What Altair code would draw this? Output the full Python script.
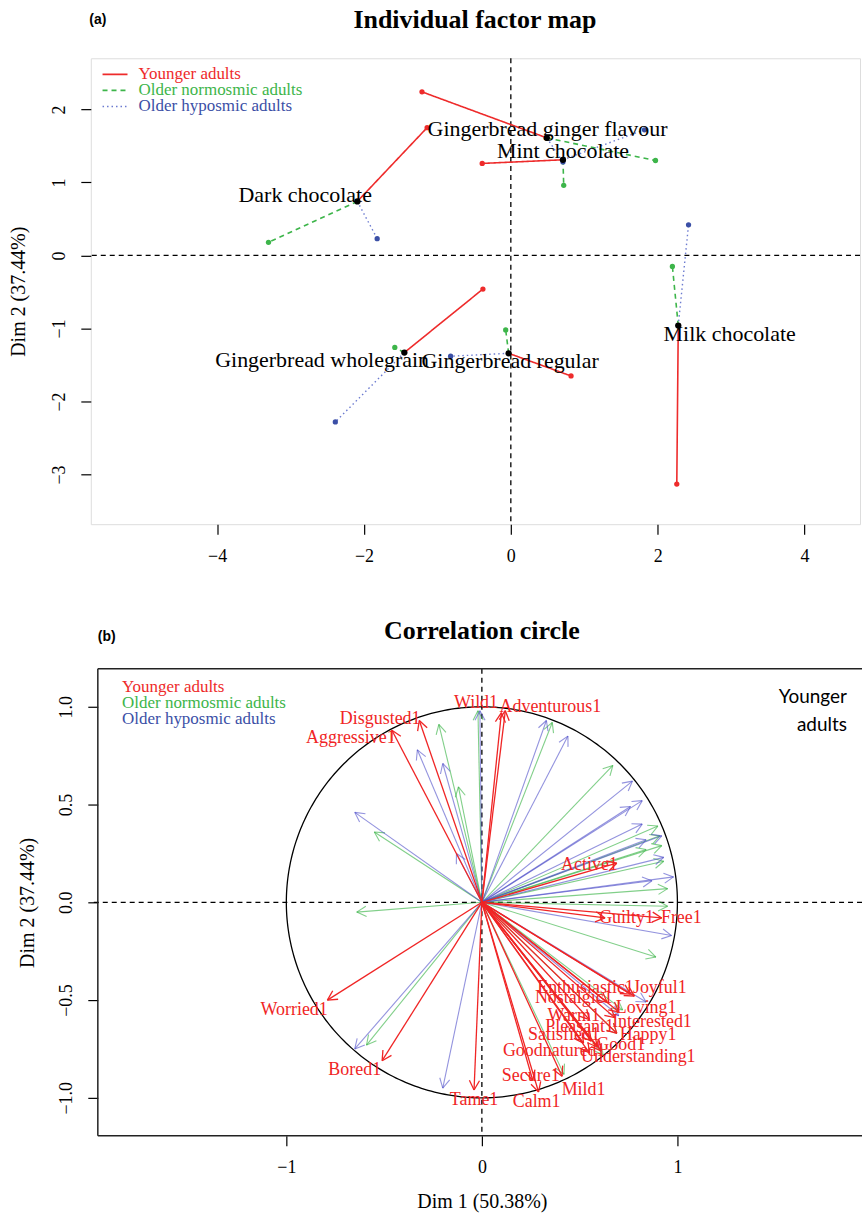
import math
import numpy as np
import pandas as pd
import altair as alt

SERIF = "Liberation Serif"
RED, GREEN, BLUE = "#EE2B2B", "#3DB54A", "#3B4FA6"
GROUPS = ["Younger adults", "Older normosmic adults", "Older hyposmic adults"]

# ---------------- (a) Individual factor map ----------------
products = ["Dark chocolate", "Gingerbread ginger flavour", "Mint chocolate",
            "Milk chocolate", "Gingerbread regular", "Gingerbread wholegrain"]
mean_x = [-2.09, 0.49, 0.71, 2.28, -0.03, -1.45]
mean_y = [0.74, 1.61, 1.31, -0.96, -1.34, -1.33]
younger_x = [-1.14, -1.21, -0.39, 2.26, 0.82, -0.38]
younger_y = [1.75, 2.24, 1.26, -3.13, -1.65, -0.46]
normosmic_x = [-3.30, 1.97, 0.72, 2.20, -0.07, -1.58]
normosmic_y = [0.18, 1.30, 0.96, -0.15, -1.02, -1.26]
hyposmic_x = [-1.82, 0.71, 1.82, 2.42, -0.82, -2.39]
hyposmic_y = [0.23, 1.28, 1.72, 0.42, -1.38, -2.28]
label_x = [-2.80, 0.50, 0.71, 2.98, -0.01, -2.57]
label_y = [0.83, 1.73, 1.43, -1.08, -1.45, -1.43]

# ---------------- (b) Correlation circle ----------------
young_terms = ["Disgusted1", "Aggressive1", "Wild1", "Adventurous1", "Active1",
               "Guilty1", "Free1", "Enthusiastic1", "Joyful1", "Nostalgic1",
               "Loving1", "Warm1", "Interested1", "Pleasant1", "Happy1",
               "Satisfied1", "Good1", "Goodnatured1", "Understanding1", "Secure1",
               "Mild1", "Calm1", "Tame1", "Bored1", "Worried1"]
young_x = [-0.32, -0.46, 0.10, 0.12, 0.69, 0.63, 0.92, 0.76, 0.78, 0.64,
           0.70, 0.55, 0.68, 0.56, 0.69, 0.52, 0.59, 0.55, 0.61, 0.26,
           0.41, 0.29, -0.04, -0.51, -0.79]
young_y = [0.93, 0.88, 0.97, 0.98, 0.20, -0.08, -0.08, -0.47, -0.48, -0.51,
           -0.56, -0.60, -0.59, -0.71, -0.67, -0.72, -0.74, -0.77, -0.76, -0.91,
           -0.89, -0.97, -0.96, -0.81, -0.50]
young_lab_x = [-0.52, -0.67, -0.03, 0.35, 0.55, 0.74, 1.02, 0.53, 0.91, 0.47,
               0.84, 0.47, 0.87, 0.50, 0.85, 0.42, 0.71, 0.37, 0.80, 0.25,
               0.52, 0.28, -0.04, -0.65, -0.96]
young_lab_y = [0.94, 0.84, 1.02, 1.00, 0.19, -0.08, -0.08, -0.44, -0.44, -0.49,
               -0.54, -0.58, -0.61, -0.64, -0.68, -0.68, -0.73, -0.76, -0.79, -0.89,
               -0.96, -1.02, -1.01, -0.86, -0.55]
normo_x = [-0.22, -0.12, -0.55, -0.02, -0.64, -0.59, 0.36, 0.67, 0.90, 0.91,
           0.92, 0.93, 0.95, 0.84, 0.95, 0.89, 0.69, 0.42, 0.62, 0.72]
normo_y = [0.91, 0.59, 0.36, 0.98, -0.05, -0.73, 0.92, 0.70, 0.39, 0.34,
           0.29, 0.21, 0.07, 0.27, -0.02, -0.28, -0.67, -0.88, -0.78, -0.55]
hypo_x = [-0.33, -0.20, -0.65, -0.13, -0.01, 0.33, 0.44, 0.77, 0.82, 0.76,
          0.82, 0.84, 0.92, 0.93, 0.98, 0.87, 0.97, 0.84, 0.70, -0.65, -0.20]
hypo_y = [0.78, 0.71, 0.46, 0.25, 0.98, 0.93, 0.85, 0.62, 0.52, 0.49,
          0.40, 0.32, 0.34, 0.23, 0.13, 0.11, -0.17, -0.51, -0.58, -0.75, -0.95]

# ---------------- shared axis styling ----------------
def axis(values, title="", rotate=False, **kw):
    opts = dict(values=values, title=title, domain=False, grid=False,
                tickColor="black", tickWidth=1.2, tickSize=10, labelFont=SERIF,
                labelFontSize=18, labelColor="black", labelPadding=13,
                titleFont=SERIF, titleFontSize=20, titleFontWeight="normal",
                titleColor="black")
    if rotate:
        opts.update(labelAngle=270, labelAlign="center", labelBaseline="bottom",
                    labelPadding=12)
    opts.update(kw)
    return alt.Axis(**opts)


def heading(text, x, y):
    """Panel title and tag drawn as text above the plot frame."""
    return [
        alt.Chart(pd.DataFrame({"t": [text]})).mark_text(
            font=SERIF, fontSize=26, fontWeight="bold", color="black",
            align="center", baseline="middle")
        .encode(x=alt.value(x), y=alt.value(-38), text="t:N"),
    ]


def tag(text, x, y):
    return alt.Chart(pd.DataFrame({"t": [text]})).mark_text(
        font="Liberation Sans", fontWeight="bold", fontSize=14, color="black",
        align="center", baseline="middle").encode(
        x=alt.value(x), y=alt.value(y), text="t:N")


# ======================= panel (a) =======================
XA = alt.Scale(domain=[-5.72, 4.755], nice=False, zero=False)
YA = alt.Scale(domain=[-3.68, 2.70], nice=False, zero=False)
AX_A = axis([-4, -2, 0, 2, 4])
AY_A = axis([-3, -2, -1, 0, 1, 2], "Dim 2 (37.44%)", rotate=True, titlePadding=22)


def xa(f):
    return alt.X(f, type="quantitative", scale=XA, axis=AX_A)


def ya(f):
    return alt.Y(f, type="quantitative", scale=YA, axis=AY_A)


partials = {
    "Younger adults": (younger_x, younger_y, RED, [1, 0], 1.6),
    "Older normosmic adults": (normosmic_x, normosmic_y, GREEN, [5, 4], 1.6),
    "Older hyposmic adults": (hyposmic_x, hyposmic_y, "#6C7BD0", [1.5, 3], 1.4),
}
point_col = {"Younger adults": RED, "Older normosmic adults": GREEN,
             "Older hyposmic adults": BLUE}

zero = pd.DataFrame({"v": [0]})
layers_a = [
    alt.Chart(zero).mark_rule(color="black", strokeDash=[5, 4], strokeWidth=1.3).encode(x=xa("v")),
    alt.Chart(zero).mark_rule(color="black", strokeDash=[5, 4], strokeWidth=1.3).encode(y=ya("v")),
]
for g, (px, py, col, dash, w) in partials.items():
    seg = pd.DataFrame({"x0": mean_x, "y0": mean_y, "x1": px, "y1": py})
    layers_a.append(
        alt.Chart(seg).mark_rule(color=col, strokeDash=dash, strokeWidth=w)
        .encode(x=xa("x0"), y=ya("y0"), x2="x1", y2="y1"))
for g, (px, py, col, dash, w) in partials.items():
    pts = pd.DataFrame({"x": px, "y": py})
    layers_a.append(
        alt.Chart(pts).mark_circle(color=point_col[g], opacity=1, size=28)
        .encode(x=xa("x"), y=ya("y")))
means = pd.DataFrame({"x": mean_x, "y": mean_y, "lx": label_x, "ly": label_y,
                      "name": products})
layers_a.append(alt.Chart(means).mark_circle(color="black", opacity=1, size=40)
                .encode(x=xa("x"), y=ya("y")))
layers_a.append(alt.Chart(means).mark_text(font=SERIF, fontSize=22, color="black",
                                           align="center", baseline="middle")
                .encode(x=xa("lx"), y=ya("ly"), text="name:N"))

# legend drawn inside the plot, top-left
leg_y = [2.48, 2.26, 2.04]
leg = pd.DataFrame({"x0": [-5.56] * 3, "x1": [-5.22] * 3, "tx": [-5.07] * 3,
                    "y": leg_y, "g": GROUPS})
for i, g in enumerate(GROUPS):
    _, _, col, dash, w = partials[g]
    sub = leg.iloc[[i]]
    layers_a.append(alt.Chart(sub).mark_rule(color=col, strokeDash=dash, strokeWidth=w)
                    .encode(x=xa("x0"), x2="x1", y=ya("y")))
    layers_a.append(alt.Chart(sub).mark_text(font=SERIF, fontSize=17, color=point_col[g],
                                             align="left", baseline="middle")
                    .encode(x=xa("tx"), y=ya("y"), text="g:N"))
layers_a += heading("Individual factor map", 385, -38)
layers_a.append(tag("(a)", 7, -38))

panel_a = alt.layer(*layers_a).properties(width=771, height=467)

# ======================= panel (b) =======================
XB = alt.Scale(domain=[-2.0, 1.944], nice=False, zero=False)
YB = alt.Scale(domain=[-1.194, 1.194], nice=False, zero=False)
AX_B = axis([-1, 0, 1], "Dim 1 (50.38%)", titlePadding=15, titleX=392)
AY_B = axis([-1, -0.5, 0, 0.5, 1], "Dim 2 (37.44%)", rotate=True, format=".1f",
            offset=-7, titlePadding=20)


def xb(f):
    return alt.X(f, type="quantitative", scale=XB, axis=AX_B)


def yb(f):
    return alt.Y(f, type="quantitative", scale=YB, axis=AY_B)


def arrow_segments(tx, ty, head=0.055, spread=math.radians(28)):
    rows = []
    for x, y in zip(tx, ty):
        rows.append((0.0, 0.0, x, y))
        a = math.atan2(y, x)
        for s in (-spread, spread):
            rows.append((x, y, x - head * math.cos(a + s), y - head * math.sin(a + s)))
    return pd.DataFrame(rows, columns=["x0", "y0", "x1", "y1"])


layers_b = [
    alt.Chart(zero).mark_rule(color="black", strokeDash=[5, 4], strokeWidth=1.3).encode(x=xb("v")),
    alt.Chart(zero).mark_rule(color="black", strokeDash=[5, 4], strokeWidth=1.3).encode(y=yb("v")),
]
t = np.linspace(0, 2 * np.pi, 361)
circle = pd.DataFrame({"x": np.cos(t), "y": np.sin(t), "o": np.arange(t.size)})
layers_b.append(alt.Chart(circle).mark_line(color="black", strokeWidth=1.3)
                .encode(x=xb("x"), y=yb("y"), order="o:Q"))

for tx, ty, col, op, w in [(normo_x, normo_y, "#3DB54A", 0.65, 1.1),
                           (hypo_x, hypo_y, "#4B4BC8", 0.6, 1.1),
                           (young_x, young_y, "#F02525", 1.0, 1.3)]:
    layers_b.append(alt.Chart(arrow_segments(tx, ty))
                    .mark_rule(color=col, opacity=op, strokeWidth=w)
                    .encode(x=xb("x0"), y=yb("y0"), x2="x1", y2="y1"))

labs = pd.DataFrame({"x": young_lab_x, "y": young_lab_y, "t": young_terms})
layers_b.append(alt.Chart(labs).mark_text(font=SERIF, fontSize=18, color="#F02525",
                                          align="center", baseline="middle")
                .encode(x=xb("x"), y=yb("y"), text="t:N"))

legb_y = [1.10, 1.02, 0.94]
for i, g in enumerate(GROUPS):
    sub = pd.DataFrame({"x": [-1.84], "y": [legb_y[i]], "g": [g]})
    layers_b.append(alt.Chart(sub).mark_text(font=SERIF, fontSize=17, color=point_col[g],
                                             align="left", baseline="middle")
                    .encode(x=xb("x"), y=yb("y"), text="g:N"))

note = pd.DataFrame({"x": [1.867, 1.867], "y": [1.05, 0.905], "t": ["Younger", "adults"]})
layers_b.append(alt.Chart(note).mark_text(font="Lato", fontSize=19, color="black",
                                          align="right", baseline="middle")
                .encode(x=xb("x"), y=yb("y"), text="t:N"))

# frame: top, bottom and left edges
frame_h = pd.DataFrame({"x0": [-1.964, -1.964], "x1": [1.944, 1.944], "y": [1.194, -1.194]})
frame_v = pd.DataFrame({"x": [-1.964], "y0": [-1.194], "y1": [1.194]})
layers_b.append(alt.Chart(frame_h).mark_rule(color="#222", strokeWidth=1.5)
                .encode(x=xb("x0"), x2="x1", y=yb("y")))
layers_b.append(alt.Chart(frame_v).mark_rule(color="#222", strokeWidth=1.5)
                .encode(x=xb("x"), y=yb("y0"), y2="y1"))
layers_b += heading("Correlation circle", 392, -37)
layers_b.append(tag("(b)", 16, -32))

panel_b = alt.layer(*layers_b).properties(
    width=773, height=468, view=alt.ViewBackground(stroke="transparent"))

chart = alt.vconcat(panel_a, panel_b, spacing=51).configure_view(
    stroke="#222", strokeWidth=1.5
).configure(background="white", padding={"left": 8, "top": 5, "right": 0, "bottom": 3})

chart.save("out.html", embed_options={"renderer": "svg", "actions": False})
